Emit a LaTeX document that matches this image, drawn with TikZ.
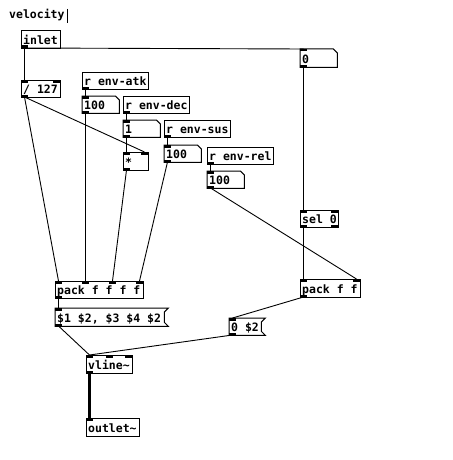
\documentclass[tikz,border=0pt]{standalone}
\usepackage{fontspec}
\setmonofont{DejaVu Sans Mono}
\usetikzlibrary{calc}
\tikzset{
  pdnode/.style={anchor=north west, inner xsep=2pt, inner ysep=0pt, draw=none,
    text height=11pt, text depth=1pt, font=\fontsize{11.5}{12}\selectfont\ttfamily\bfseries},
  outl/.style={draw=black, line width=1pt},
  conn/.style={draw=black, line width=0.9pt},
  sig/.style={draw=black, line width=2.2pt},
}
\newcommand\pdobj[9]{% name x y w h nin nout kind text
  \pgfmathsetmacro\pdtw{#4-4}%
  \node[pdnode, minimum width=#4pt, minimum height=#5pt] (#1) at (#2,#3) {\makebox[\pdtw pt][l]{#9}};%
  \ifcase#8
    \draw[outl] (#1.north west) rectangle (#1.south east);%
  \or
    \draw[outl] (#1.north west) -- ([xshift=-4pt]#1.north east) -- ([yshift=-4pt]#1.north east) -- (#1.south east) -- (#1.south west) -- cycle;%
  \or
    \draw[outl] (#1.north west) -- ([xshift=4pt]#1.north east) -- ([yshift=-4pt]#1.north east) -- ([yshift=4pt]#1.south east) -- ([xshift=4pt]#1.south east) -- (#1.south west) -- cycle;%
  \fi
  \ifnum#6>0
    \foreach \k in {1,...,#6}{%
      \pgfmathsetmacro\pdix{#2+(#4-7)*(\k-1)/max(#6-1,1)}%
      \fill (\pdix,#3) rectangle ++(7,2.5);%
      \coordinate (#1-i\k) at (\pdix+3.5,#3);%
    }%
  \fi
  \ifnum#7>0
    \foreach \k in {1,...,#7}{%
      \pgfmathsetmacro\pdix{#2+(#4-7)*(\k-1)/max(#7-1,1)}%
      \fill (\pdix,#3+#5-2.5) rectangle ++(7,2.5);%
      \coordinate (#1-o\k) at (\pdix+3.5,#3+#5);%
    }%
  \fi
}
\begin{document}
\begin{tikzpicture}[x=1pt,y=-1pt]
\useasboundingbox[fill=white] (0,0) rectangle (452,460);
% comment
\node[anchor=base west, inner sep=0pt, font=\fontsize{11.5}{12}\selectfont\ttfamily\bfseries] (comment) at (9,19) {velocity};
\coordinate (cur1) at (67,9);
\coordinate (cur2) at (67,23);
\draw[line width=1pt] (cur1) -- (cur2);
% objects
\pdobj{inlet}{21}{31}{39}{17}{0}{1}{0}{inlet}
\pdobj{div}{21}{80}{39}{17}{2}{1}{0}{/ 127}
\pdobj{ratk}{82}{72}{66}{17}{0}{1}{0}{r env-atk}
\pdobj{nAtk}{82}{96}{37}{17}{1}{1}{1}{100}
\pdobj{rdec}{123}{96}{66}{17}{0}{1}{0}{r env-dec}
\pdobj{nDec}{123}{120}{37}{17}{1}{1}{1}{1}
\pdobj{rsus}{164}{120}{66}{17}{0}{1}{0}{r env-sus}
\pdobj{mul}{123}{152}{25}{18}{2}{1}{0}{*}
\pdobj{nSus}{164}{145}{37}{17}{1}{1}{1}{100}
\pdobj{rrel}{207}{147}{66}{17}{0}{1}{0}{r env-rel}
\pdobj{nRel}{207}{171}{37}{17}{1}{1}{1}{100}
\pdobj{nZero}{300}{49}{37}{18}{1}{1}{1}{0}
\pdobj{sel}{300}{210}{38}{17}{2}{2}{0}{sel 0}
\pdobj{packA}{55}{281}{88}{17}{4}{1}{0}{pack f f f f}
\pdobj{msgA}{55}{308}{109}{18}{1}{1}{2}{\$1 \$2, \$3 \$4 \$2}
\pdobj{packB}{300}{279}{60}{18}{2}{1}{0}{pack f f}
\pdobj{msgB}{229}{318}{32}{17}{1}{1}{2}{0 \$2}
\pdobj{vline}{86}{355}{46}{18}{3}{1}{0}{vline\textasciitilde}
\pdobj{outlet}{86}{418}{53}{18}{1}{0}{0}{outlet\textasciitilde}
% connections
\draw[conn] (inlet-o1) -- (div-i1);
\draw[conn] (inlet-o1) -- (nZero-i1);
\draw[conn] (div-o1) -- (packA-i1);
\draw[conn] (div-o1) -- (mul-i2);
\draw[conn] (ratk-o1) -- (nAtk-i1);
\draw[conn] (nAtk-o1) -- (packA-i2);
\draw[conn] (rdec-o1) -- (nDec-i1);
\draw[conn] (nDec-o1) -- (mul-i1);
\draw[conn] (mul-o1) -- (packA-i3);
\draw[conn] (rsus-o1) -- (nSus-i1);
\draw[conn] (nSus-o1) -- (packA-i4);
\draw[conn] (rrel-o1) -- (nRel-i1);
\draw[conn] (nRel-o1) -- (packB-i2);
\draw[conn] (nZero-o1) -- (sel-i1);
\draw[conn] (sel-o1) -- (packB-i1);
\draw[conn] (packA-o1) -- (msgA-i1);
\draw[conn] (msgA-o1) -- (vline-i1);
\draw[conn] (packB-o1) -- (msgB-i1);
\draw[conn] (msgB-o1) -- (vline-i1);
\draw[sig] (vline-o1) -- (outlet-i1);
\end{tikzpicture}
\end{document}
